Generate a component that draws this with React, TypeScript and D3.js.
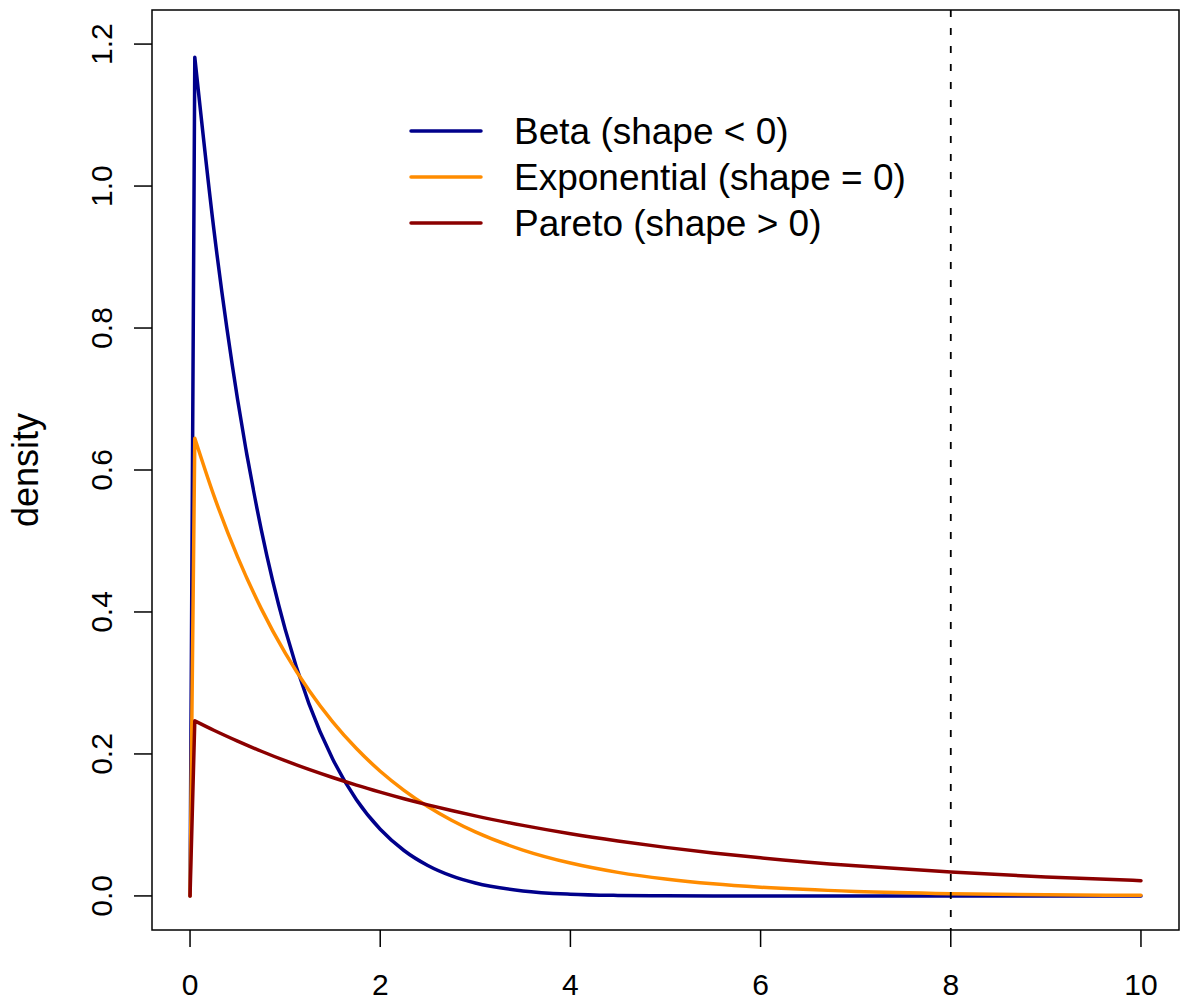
import React from "react";
import * as d3 from "d3";

// ---- data ----
const xValues = [0, 0.05, 0.25, 0.5, 0.75, 1, 1.25, 1.5, 1.75, 2, 2.25, 2.5, 2.75, 3, 3.5, 4, 4.5, 5, 5.5, 6, 7, 8, 9, 10];
const betaDensity = [0, 1.1814, 0.9394, 0.6993, 0.5154, 0.3758, 0.2709, 0.1929, 0.1355, 0.0939, 0.064, 0.0429, 0.0282, 0.0182, 0.00705, 0.00244, 0.00073, 0.00018, 0.00004, 0.000005, 0, 0, 0, 0];
const exponentialDensity = [0, 0.6448, 0.5643, 0.4777, 0.4044, 0.3423, 0.2897, 0.2453, 0.2076, 0.1757, 0.1488, 0.1259, 0.1066, 0.0902, 0.0646, 0.0463, 0.0332, 0.0238, 0.017, 0.0122, 0.00627, 0.00322, 0.00165, 0.00085];
const paretoDensity = [0, 0.2466, 0.2334, 0.2181, 0.2038, 0.1905, 0.1782, 0.1668, 0.1561, 0.1462, 0.1369, 0.1283, 0.1203, 0.1128, 0.0994, 0.0876, 0.0774, 0.0684, 0.0606, 0.0537, 0.0424, 0.0336, 0.0268, 0.0215];
const seriesNames = ["Beta (shape < 0)", "Exponential (shape = 0)", "Pareto (shape > 0)"];
const seriesColors = ["#00008B", "#FF8C00", "#8B0000"];
const xTicks = [0, 2, 4, 6, 8, 10];
const yTicks = [0, 0.2, 0.4, 0.6, 0.8, 1.0, 1.2];
const yLabel = "density";
const cutoffX = 8;

const W = 1181;
const H = 1001;
const box = { left: 152, right: 1179, top: 10, bottom: 930 };
const FONT = "'Liberation Sans', Arial, Helvetica, sans-serif";

export default function App() {
  const xScale = d3.scaleLinear().domain([-0.4, 10.4]).range([box.left, box.right]);
  const yScale = d3.scaleLinear().domain([-0.048, 1.248]).range([box.bottom, box.top]);

  const allSeries = [betaDensity, exponentialDensity, paretoDensity];

  const makePath = (vals: number[]) => {
    const pts: [number, number][] = xValues.map((x, i) => [xScale(x), yScale(vals[i])]);
    const rest = d3.line().curve(d3.curveMonotoneX)(pts.slice(1)) || "";
    return `M${pts[0][0]},${pts[0][1]}L` + rest.slice(1);
  };

  const legendRows = [131, 177, 223];

  return (
    <svg
      width={W}
      height={H}
      style={{ position: "absolute", left: 0, top: 0, background: "#fff" }}
      fontFamily={FONT}
    >
      <rect x={0} y={0} width={W} height={H} fill="#fff" />
      {/* curves */}
      {allSeries.map((vals, i) => (
        <path
          key={i}
          d={makePath(vals)}
          fill="none"
          stroke={seriesColors[i]}
          strokeWidth={3.5}
          strokeLinejoin="round"
          strokeLinecap="round"
        />
      ))}
      {/* dashed vertical line */}
      <line
        x1={xScale(cutoffX)}
        x2={xScale(cutoffX)}
        y1={box.top}
        y2={box.bottom}
        stroke="#000"
        strokeWidth={1.8}
        strokeDasharray="7,11"
      />
      {/* box */}
      <rect
        x={box.left}
        y={box.top}
        width={box.right - box.left}
        height={box.bottom - box.top}
        fill="none"
        stroke="#000"
        strokeWidth={1.5}
      />
      {/* x axis */}
      {xTicks.map((t) => (
        <g key={"x" + t}>
          <line x1={xScale(t)} x2={xScale(t)} y1={box.bottom} y2={box.bottom + 17} stroke="#000" strokeWidth={1.5} />
          <text x={xScale(t)} y={995} textAnchor="middle" fontSize={30} fill="#000">
            {t}
          </text>
        </g>
      ))}
      {/* y axis */}
      {yTicks.map((t) => (
        <g key={"y" + t}>
          <line x1={box.left - 18} x2={box.left} y1={yScale(t)} y2={yScale(t)} stroke="#000" strokeWidth={1.5} />
          <text
            transform={`translate(112,${yScale(t)}) rotate(-90)`}
            textAnchor="middle"
            fontSize={30}
            fill="#000"
          >
            {t.toFixed(1)}
          </text>
        </g>
      ))}
      <text
        transform={`translate(38,${(box.top + box.bottom) / 2}) rotate(-90)`}
        textAnchor="middle"
        fontSize={36}
        fill="#000"
      >
        {yLabel}
      </text>
      {/* legend */}
      {seriesNames.map((name, i) => (
        <g key={name}>
          <line
            x1={411}
            x2={481}
            y1={legendRows[i]}
            y2={legendRows[i]}
            stroke={seriesColors[i]}
            strokeWidth={3.5}
            strokeLinecap="round"
          />
          <text x={514} y={legendRows[i] + 13} fontSize={37} fill="#000">
            {name}
          </text>
        </g>
      ))}
    </svg>
  );
}
